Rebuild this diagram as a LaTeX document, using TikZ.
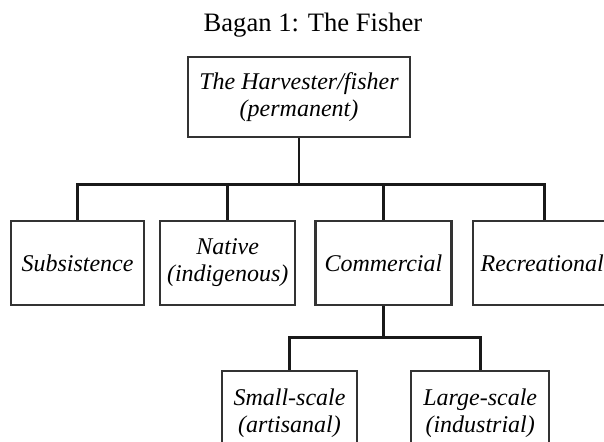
\documentclass[tikz,border=0pt]{standalone}
\usepackage{fontspec}
\setmainfont{Liberation Serif}
\usetikzlibrary{positioning}

\begin{document}
\begin{tikzpicture}[
    x=0.5pt, y=-0.5pt,
    align=center,
    every edge/.style={draw, line width=1.4pt, black!90},
    elbow/.style={to path={|- (\tikztotarget)}},
    link/.style={draw, line width=1.4pt, black!90},
    kind/.style={rectangle,
                draw=black!80, line width=1.1pt,
                font=\fontsize{12}{13.5}\selectfont\itshape,
                minimum height=42pt, inner sep=1pt}]
    \useasboundingbox (0,0) rectangle (604,441);
    \clip (0,0) rectangle (604,441);

    \node (title) at (313,25) [font=\fontsize{13.3}{16}\selectfont] {Bagan 1: The Fisher};

    \node[kind] (harvester) at (299,97) [minimum width=111pt, minimum height=40pt] {The Harvester/fisher\\(permanent)};
    \coordinate (fork) at ([yshift=-23pt]harvester.south);
    \draw[link] (harvester) -- (fork);

    \node[kind] (subsistence) at (77.5,263) [minimum width=66.5pt] {Subsistence}
      edge [elbow] (fork);

    \node[kind] (native) [right=7pt of subsistence, minimum width=67.5pt] {Native\\(indigenous)}
      edge [elbow] (fork);

    \node[kind] (commercial) [right=9pt of native, minimum width=68pt] {Commercial}
      edge [elbow] (fork);

    % text held at the edge, as in the source
    \node[kind] (recreational) [right=9.5pt of commercial, minimum width=72pt, text width=64pt, align=left] {Recreational}
      edge [elbow] (fork);

    \coordinate (subfork) at ([yshift=-15.5pt]commercial.south);
    \draw[link] (commercial) -- (subfork);

    \node[kind] (smallscale) at (289.5,413) [minimum width=67.5pt] {Small-scale\\(artisanal)}
      edge [elbow] (subfork);

    \node[kind] (largescale) [right=26pt of smallscale, minimum width=69pt] {Large-scale\\(industrial)}
      edge [elbow] (subfork);
  \end{tikzpicture}
\end{document}
